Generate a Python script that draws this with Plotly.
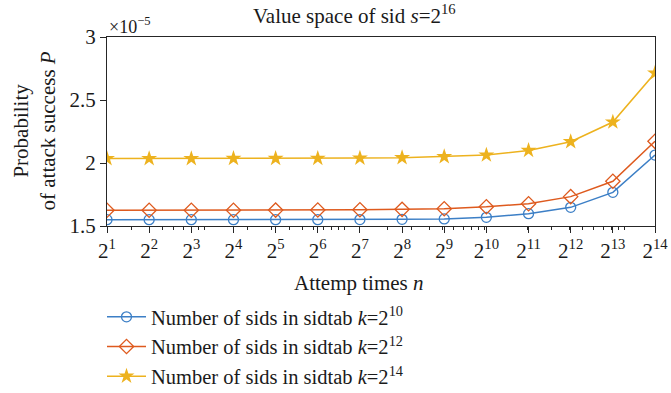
import plotly.graph_objects as go

n_exp = list(range(1, 15))
n_vals = [2 ** e for e in n_exp]
tick_text = [f"2<sup>{e}</sup>" for e in n_exp]

# Probability values in units of 1e-5
p_k10 = [1.550, 1.550, 1.550, 1.550, 1.550, 1.550, 1.551, 1.553, 1.556, 1.569, 1.598, 1.648, 1.767, 2.063]
p_k12 = [1.625, 1.625, 1.625, 1.625, 1.626, 1.627, 1.629, 1.632, 1.637, 1.653, 1.677, 1.733, 1.855, 2.172]
p_k14 = [2.035, 2.035, 2.035, 2.036, 2.036, 2.037, 2.039, 2.042, 2.050, 2.063, 2.100, 2.169, 2.325, 2.714]

y_ticks = [1.5, 2, 2.5, 3]
y_tick_text = ["1.5", "2", "2.5", "3"]

minor_vals = [m * 10 ** d for d in range(0, 5) for m in range(1, 10) if 2 <= m * 10 ** d <= 16384]

FONT = "Liberation Serif"
FS = 21
TXT = "#1a1a1a"
C_BLUE = "#3C7FC6"
C_ORANGE = "#DE5A1E"
C_YELLOW = "#EDB21E"

W, H = 671, 393
ML, MR, MT, MB = 107, 16, 37, 167

fig = go.Figure()
fig.add_trace(go.Scatter(
    x=n_vals, y=p_k10, mode="lines+markers",
    name="Number of sids in sidtab <i>k</i>=2<sup>10</sup>",
    line=dict(color=C_BLUE, width=1.5),
    marker=dict(symbol="circle-open", size=10, color=C_BLUE, line=dict(width=1.3)),
))
fig.add_trace(go.Scatter(
    x=n_vals, y=p_k12, mode="lines+markers",
    name="Number of sids in sidtab <i>k</i>=2<sup>12</sup>",
    line=dict(color=C_ORANGE, width=1.5),
    marker=dict(symbol="diamond-open", size=11, color=C_ORANGE, line=dict(width=1.3)),
))
fig.add_trace(go.Scatter(
    x=n_vals, y=p_k14, mode="lines+markers",
    name="Number of sids in sidtab <i>k</i>=2<sup>14</sup>",
    line=dict(color=C_YELLOW, width=1.5),
    marker=dict(symbol="star", size=12, color=C_YELLOW),
))

axis_color = "#262626"
fig.update_layout(
    width=W, height=H,
    margin=dict(l=ML, r=MR, t=MT, b=MB, autoexpand=False),
    paper_bgcolor="white", plot_bgcolor="white",
    font=dict(family=FONT, size=FS, color=TXT),
    showlegend=True,
    legend=dict(
        xref="container", yref="container",
        x=102 / W, y=1 - 297 / H, xanchor="left", yanchor="top",
        font=dict(family=FONT, size=20.5, color=TXT),
        itemwidth=39, tracegroupgap=0, bgcolor="rgba(0,0,0,0)",
    ),
    xaxis=dict(
        type="log",
        range=[0.30103, 4.21442],
        tickmode="array", tickvals=n_vals, ticktext=tick_text,
        ticks="outside", ticklen=6, tickwidth=1, tickcolor=axis_color,
        minor=dict(tickmode="array", tickvals=minor_vals, ticks="outside", ticklen=3,
                   tickwidth=1, tickcolor=axis_color, showgrid=False),
        showline=True, linecolor=axis_color, linewidth=1, mirror=True,
        showgrid=False, zeroline=False, automargin=False,
        tickfont=dict(family=FONT, size=FS, color=TXT),
    ),
    yaxis=dict(
        range=[1.5, 3],
        tickmode="array", tickvals=y_ticks, ticktext=y_tick_text,
        ticks="outside", ticklen=6, tickwidth=1, tickcolor=axis_color,
        showline=True, linecolor=axis_color, linewidth=1, mirror=True,
        showgrid=False, zeroline=False, automargin=False,
        tickfont=dict(family=FONT, size=FS, color=TXT),
    ),
    annotations=[
        dict(text="Value space of sid <i>s</i>=2<sup>16</sup>", xref="paper", yref="paper",
             x=(354 - ML) / (W - ML - MR), y=1.0, yshift=MT - 14, xanchor="center", yanchor="middle",
             showarrow=False, font=dict(family=FONT, size=FS)),
        dict(text="×10<sup>−5</sup>", xref="paper", yref="paper",
             x=0, y=1.0, xanchor="left", yanchor="bottom", yshift=-2,
             showarrow=False, font=dict(family=FONT, size=18)),
        dict(text="Attemp times <i>n</i>", xref="paper", yref="paper",
             x=(359 - ML) / (W - ML - MR), y=0, yshift=-57, xanchor="center", yanchor="middle",
             showarrow=False, font=dict(family=FONT, size=FS)),
        dict(text="Probability<br>of attack success <i>P</i>", xref="paper", yref="paper",
             x=0, xshift=-(ML - 34), y=0.5, xanchor="center", yanchor="middle",
             textangle=-90, showarrow=False, font=dict(family=FONT, size=FS)),
    ],
)

fig.write_html("out.html", config={"displayModeBar": False},
               post_script="document.body.style.margin='0';")
